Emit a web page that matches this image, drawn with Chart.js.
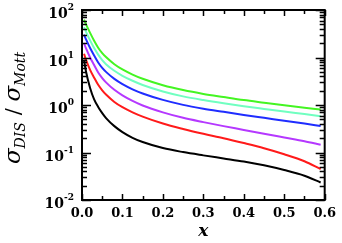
<!DOCTYPE html>
<html>
<head>
<meta charset="utf-8">
<script src="https://cdn.jsdelivr.net/npm/chart.js@4.4.0/dist/chart.umd.min.js"></script>
<style>
  html, body { margin: 0; padding: 0; background: #fff; }
  #wrap { width: 342px; height: 243px; }
</style>
</head>
<body>
<div id="wrap"><canvas id="grafico" width="342" height="243"></canvas></div>
<script>
// valores de x (comuns a todas as curvas)
const xValues = [0.005, 0.01, 0.02, 0.03, 0.04, 0.05, 0.06, 0.08, 0.1, 0.125, 0.15, 0.2, 0.25, 0.3, 0.35, 0.4, 0.45, 0.5, 0.55, 0.59];

// razão sigma_DIS / sigma_Mott
const curvaVerde  = [63, 50, 33, 22.6, 16.1, 12.4, 10.1, 7.23, 5.61, 4.37, 3.56, 2.61, 2.06, 1.71, 1.47, 1.27, 1.12, 0.99, 0.88, 0.80];
const curvaAqua   = [43.6, 34.7, 22.9, 15.8, 11.5, 8.8, 7.16, 5.25, 4.12, 3.24, 2.64, 1.93, 1.52, 1.27, 1.087, 0.944, 0.828, 0.728, 0.646, 0.58];
const curvaAzul   = [30.2, 24, 15.8, 11, 7.85, 6.05, 4.92, 3.55, 2.75, 2.14, 1.75, 1.28, 1.007, 0.838, 0.718, 0.617, 0.537, 0.468, 0.407, 0.36];
const curvaRoxa   = [20, 15.5, 10, 6.92, 4.84, 3.70, 2.96, 2.09, 1.60, 1.22, 0.977, 0.70, 0.537, 0.436, 0.359, 0.299, 0.248, 0.207, 0.173, 0.146];
const curvaVerm   = [12, 8.9, 5.5, 3.76, 2.66, 2.04, 1.64, 1.16, 0.90, 0.70, 0.569, 0.407, 0.313, 0.248, 0.2, 0.158, 0.123, 0.092, 0.0655, 0.0447];
const curvaPreta  = [8.9, 5.0, 2.29, 1.32, 0.912, 0.676, 0.525, 0.359, 0.269, 0.204, 0.166, 0.124, 0.102, 0.087, 0.075, 0.0646, 0.0537, 0.0427, 0.0324, 0.0234];

// marcas dos eixos
const xTicks = [0, 0.1, 0.2, 0.3, 0.4, 0.5, 0.6];
const yTickValues = [0.01, 0.1, 1, 10, 100];
const yTickExpoentes = ['-2', '-1', '0', '1', '2'];

const FONTE = "'DejaVu Serif', serif";

// monta os pontos {x, y} de uma série
function pontos(ys) {
    return xValues.map((x, i) => ({ x: x, y: ys[i] }));
}

function serie(ys, cor) {
    return {
        data: pontos(ys),
        borderColor: cor,
        borderWidth: 2,
        pointRadius: 0,
        fill: false,
        cubicInterpolationMode: 'monotone'
    };
}

// plugin que desenha a moldura, as marcas internas e os rótulos
const moldura = {
    id: 'moldura',
    afterDraw(chart) {
        const ctx = chart.ctx;
        const a = chart.chartArea;
        const sx = chart.scales.x;
        const sy = chart.scales.y;
        ctx.save();
        ctx.strokeStyle = '#000';
        ctx.lineWidth = 2;
        ctx.strokeRect(a.left, a.top, a.right - a.left, a.bottom - a.top);

        // marcas em x (principais e secundárias), em cima e em baixo
        ctx.lineWidth = 1.5;
        ctx.beginPath();
        for (let v = 0; v <= 0.6001; v += 0.05) {
            const px = Math.round(sx.getPixelForValue(v)) + 0.5;
            const major = Math.abs(v * 10 - Math.round(v * 10)) < 1e-6;
            const len = major ? 6 : 4;
            ctx.moveTo(px, a.bottom); ctx.lineTo(px, a.bottom - len);
            ctx.moveTo(px, a.top); ctx.lineTo(px, a.top + len);
        }
        ctx.stroke();

        // marcas em y (escala log), esquerda e direita
        ctx.beginPath();
        for (let d = 0; d < yTickValues.length; d++) {
            const base = yTickValues[d];
            const py = Math.round(sy.getPixelForValue(base)) + 0.5;
            ctx.moveTo(a.left, py); ctx.lineTo(a.left + 9, py);
            ctx.moveTo(a.right, py); ctx.lineTo(a.right - 9, py);
            if (d < yTickValues.length - 1) {
                for (let m = 2; m <= 9; m++) {
                    const pm = Math.round(sy.getPixelForValue(base * m)) + 0.5;
                    ctx.moveTo(a.left, pm); ctx.lineTo(a.left + 5, pm);
                    ctx.moveTo(a.right, pm); ctx.lineTo(a.right - 5, pm);
                }
            }
        }
        ctx.stroke();

        // rótulos do eixo y: 10 com expoente
        ctx.fillStyle = '#000';
        ctx.textBaseline = 'alphabetic';
        yTickValues.forEach((v, i) => {
            const py = sy.getPixelForValue(v);
            ctx.font = 'bold 9px ' + FONTE;
            const wExp = ctx.measureText(yTickExpoentes[i]).width;
            ctx.textAlign = 'left';
            ctx.fillText(yTickExpoentes[i], 74 - wExp, py - 0);
            ctx.font = 'bold 14px ' + FONTE;
            ctx.textAlign = 'right';
            ctx.fillText('10', 74 - wExp, py + 8);
        });

        // título do eixo x
        ctx.font = 'italic bold 17px ' + FONTE;
        ctx.textAlign = 'center';
        ctx.fillText('x', (a.left + a.right) / 2, 236);

        // título do eixo y, rodado, com índices
        const partes = [
            { t: 'σ', f: 'italic 23px ' + FONTE, dy: 0 },
            { t: 'DIS', f: 'italic 14px ' + FONTE, dy: 5 },
            { t: ' / ', f: '21px ' + FONTE, dy: 0 },
            { t: 'σ', f: 'italic 23px ' + FONTE, dy: 0 },
            { t: 'Mott', f: 'italic 14px ' + FONTE, dy: 5 }
        ];
        let total = 0;
        partes.forEach(p => { ctx.font = p.f; p.w = ctx.measureText(p.t).width; total += p.w; });
        ctx.translate(20, 108);
        ctx.rotate(-Math.PI / 2);
        ctx.textAlign = 'left';
        let cx = -total / 2;
        partes.forEach(p => {
            ctx.font = p.f;
            ctx.fillText(p.t, cx, p.dy);
            cx += p.w;
        });
        ctx.restore();
    }
};

new Chart(document.getElementById('grafico').getContext('2d'), {
    type: 'line',
    data: {
        datasets: [
            serie(curvaPreta, '#000000'),
            serie(curvaVerm, '#ff1a1a'),
            serie(curvaRoxa, '#b538ff'),
            serie(curvaAzul, '#1f2dff'),
            serie(curvaAqua, '#70ffc0'),
            serie(curvaVerde, '#44f522')
        ]
    },
    options: {
        responsive: false,
        animation: false,
        events: [],
        layout: { padding: { left: 0, top: 10, right: 13, bottom: 0 } },
        plugins: { legend: { display: false }, tooltip: { enabled: false } },
        scales: {
            x: {
                type: 'linear',
                min: 0,
                max: 0.6,
                afterBuildTicks: s => { s.ticks = xTicks.map(v => ({ value: v })); },
                afterFit: s => { s.height = 43; },
                grid: { display: false, drawTicks: false },
                border: { display: false },
                ticks: {
                    autoSkip: false,
                    maxRotation: 0,
                    padding: 6,
                    color: '#000',
                    font: { family: FONTE, size: 13, weight: 'bold' },
                    callback: v => v.toFixed(1)
                }
            },
            y: {
                type: 'logarithmic',
                min: 0.01,
                max: 100,
                afterFit: s => { s.width = 82; },
                grid: { display: false, drawTicks: false },
                border: { display: false },
                ticks: { display: false }
            }
        }
    },
    plugins: [moldura]
});
</script>
</body>
</html>
